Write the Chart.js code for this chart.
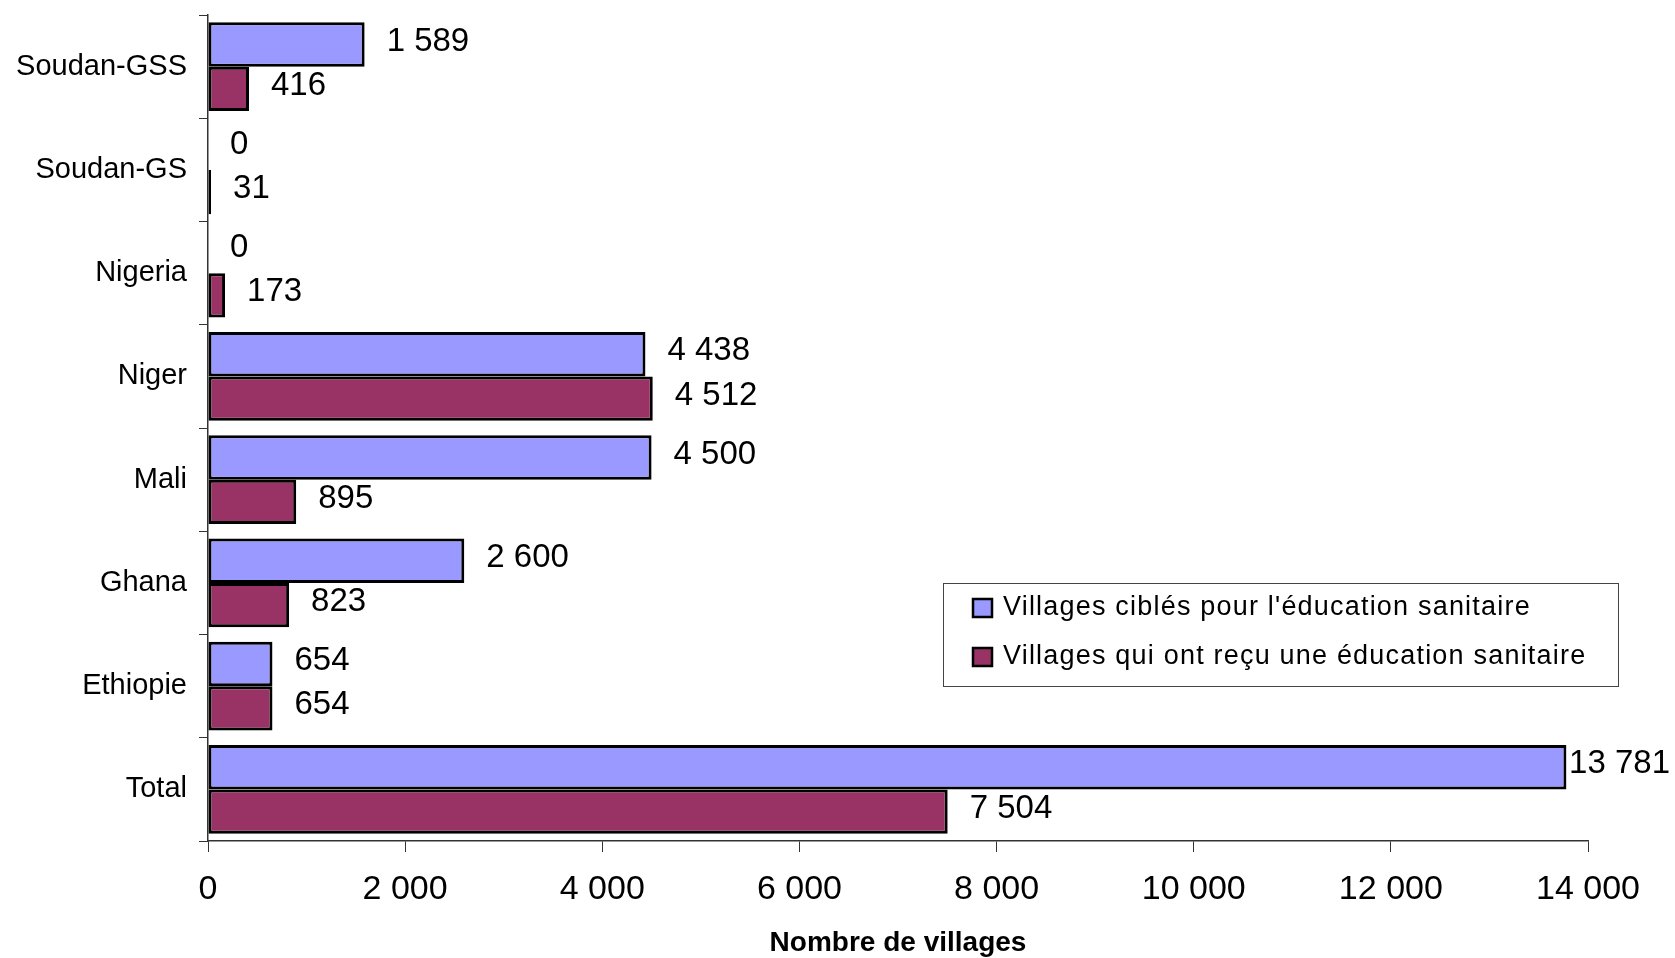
<!DOCTYPE html>
<html>
<head>
<meta charset="utf-8">
<script src="https://cdn.jsdelivr.net/npm/chart.js@4/dist/chart.umd.min.js"></script>
<style>
  body { margin: 0; background: #fff; }
  #wrap { width: 1675px; height: 958px; }
</style>
</head>
<body>
<div id="wrap"><canvas id="chart" width="1675" height="958"></canvas></div>
<script>
// data
const countries = ['Soudan-GSS', 'Soudan-GS', 'Nigeria', 'Niger', 'Mali', 'Ghana', 'Ethiopie', 'Total'];
const targeted = [1589, 0, 0, 4438, 4500, 2600, 654, 13781];
const received = [416, 31, 173, 4512, 895, 823, 654, 7504];
const seriesNames = [
  "Villages ciblés pour l'éducation sanitaire",
  'Villages qui ont reçu une éducation sanitaire'
];
const xTicks = [0, 2000, 4000, 6000, 8000, 10000, 12000, 14000];

const FONT = '"Liberation Sans", Arial, sans-serif';

// 13781 -> "13 781"
const fmt = function (v) {
  return String(v).replace(/\B(?=(\d{3})+(?!\d))/g, ' ');
};

const valueLabels = {
  id: 'valueLabels',
  afterDatasetsDraw(chart) {
    const ctx = chart.ctx;
    ctx.save();
    ctx.font = '33px ' + FONT;
    ctx.fillStyle = '#000';
    ctx.textBaseline = 'middle';
    chart.data.datasets.forEach((ds, i) => {
      chart.getDatasetMeta(i).data.forEach((bar, j) => {
        const txt = fmt(ds.data[j]);
        const w = ctx.measureText(txt).width;
        let x = bar.x + 22;
        if (x + w > chart.width - 5) x = chart.width - 5 - w;
        ctx.fillText(txt, x, bar.y - 3);
      });
    });
    ctx.restore();
  }
};

// boxed legend sitting inside the plot, like the original
const boxLegend = {
  id: 'boxLegend',
  afterDraw(chart) {
    const ctx = chart.ctx;
    ctx.save();
    ctx.strokeStyle = '#444';
    ctx.lineWidth = 1;
    ctx.strokeRect(943.5, 583.5, 675, 103);
    ctx.font = '27px ' + FONT;
    ctx.letterSpacing = '1.2px';
    ctx.textBaseline = 'middle';
    chart.data.datasets.forEach((ds, i) => {
      const cy = 608 + i * 49;
      ctx.fillStyle = ds.backgroundColor;
      ctx.fillRect(973, cy - 9, 19, 18);
      ctx.strokeStyle = '#000';
      ctx.lineWidth = 2.5;
      ctx.strokeRect(973, cy - 9, 19, 18);
      ctx.fillStyle = '#000';
      ctx.fillText(ds.label, 1003, cy);
    });
    ctx.restore();
  }
};

const ctx = document.getElementById('chart');
const chart = new Chart(ctx, {
  type: 'bar',
  data: {
    labels: countries,
    datasets: [{
      label: seriesNames[0],
      data: targeted,
      backgroundColor: '#9999FF',
      borderColor: '#000',
      borderWidth: 3,
      borderSkipped: false
    }, {
      label: seriesNames[1],
      data: received,
      backgroundColor: '#993366',
      borderColor: '#000',
      borderWidth: 3,
      borderSkipped: false
    }]
  },
  plugins: [valueLabels, boxLegend],
  options: {
    indexAxis: 'y',
    responsive: false,
    animation: false,
    categoryPercentage: 0.86,
    barPercentage: 1.0,
    layout: { padding: { top: 15, right: 87, left: 0, bottom: 0 } },
    plugins: {
      legend: { display: false },
      tooltip: { enabled: false }
    },
    scales: {
      y: {
        offset: true,
        afterFit: (scale) => {
          scale.width = 208;
          scale.paddingTop = 0;
          scale.paddingBottom = 0;
        },
        grid: {
          drawOnChartArea: false,
          drawTicks: true,
          tickLength: 9,
          color: '#333',
          offset: true
        },
        border: { display: true, color: '#333', width: 1.5 },
        ticks: {
          color: '#000',
          font: { family: FONT, size: 29 },
          padding: 12
        }
      },
      x: {
        min: 0,
        max: 14000,
        afterBuildTicks: (scale) => { scale.ticks = xTicks.map(v => ({ value: v })); },
        afterFit: (scale) => { scale.height = 117; },
        grid: {
          drawOnChartArea: false,
          drawTicks: true,
          tickLength: 11,
          color: '#333'
        },
        border: { display: true, color: '#333', width: 1.5 },
        ticks: {
          color: '#000',
          font: { family: FONT, size: 34 },
          padding: 17,
          maxRotation: 0,
          callback: (v) => fmt(v)
        },
        title: {
          display: true,
          text: 'Nombre de villages',
          color: '#000',
          font: { family: FONT, size: 28, weight: 'bold', lineHeight: 1.05 },
          padding: { top: 0, bottom: 0 }
        }
      }
    }
  }
});
</script>
</body>
</html>
